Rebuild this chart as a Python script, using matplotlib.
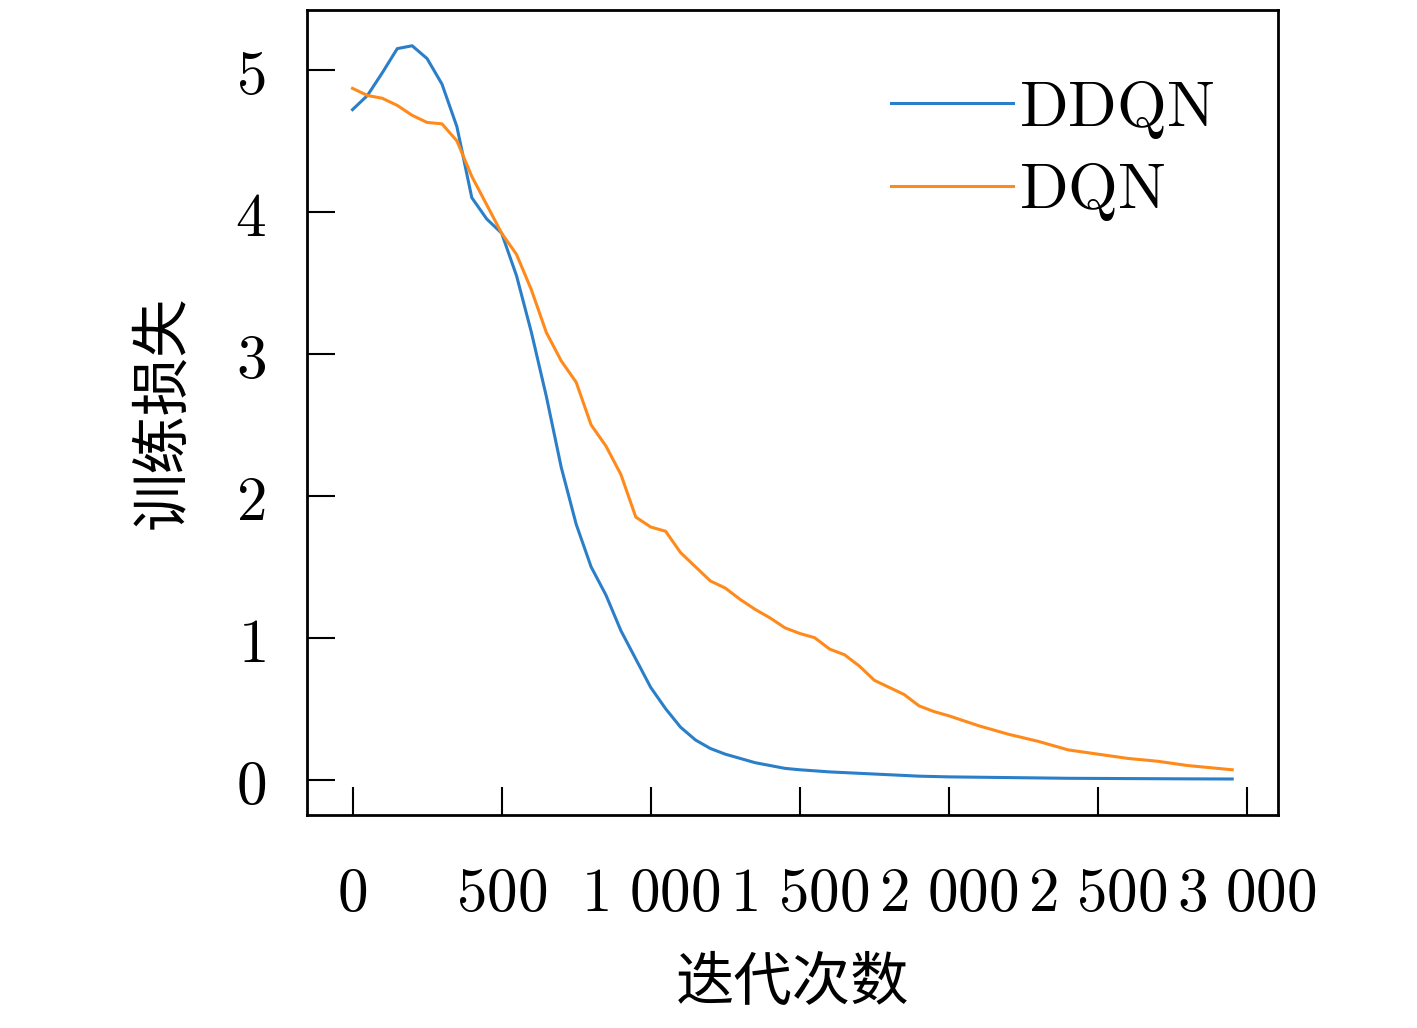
import matplotlib
matplotlib.use('Agg')
import matplotlib.pyplot as plt
from matplotlib.ticker import FuncFormatter

plt.rcParams['mathtext.fontset'] = 'cm'
plt.rcParams['font.family'] = ['Noto Sans CJK SC', 'DejaVu Sans']

# iterations and loss values
ddqn_x = [0, 50, 100, 150, 200, 250, 300, 350, 400, 450, 500, 550, 600, 650, 700,
          750, 800, 850, 900, 950, 1000, 1050, 1100, 1150, 1200, 1250, 1300, 1350,
          1400, 1450, 1500, 1600, 1700, 1800, 1900, 2000, 2200, 2400, 2600, 2800, 2950]
ddqn_y = [4.72, 4.82, 4.98, 5.15, 5.17, 5.08, 4.9, 4.6, 4.1, 3.95, 3.85, 3.55, 3.15,
          2.7, 2.2, 1.8, 1.5, 1.3, 1.05, 0.85, 0.65, 0.5, 0.37, 0.28, 0.22, 0.18,
          0.15, 0.12, 0.1, 0.08, 0.07, 0.055, 0.045, 0.035, 0.025, 0.02, 0.015,
          0.01, 0.008, 0.006, 0.005]

dqn_x = [0, 50, 100, 150, 200, 250, 300, 350, 400, 450, 500, 550, 600, 650, 700,
         750, 800, 850, 900, 950, 1000, 1050, 1100, 1150, 1200, 1250, 1300, 1350,
         1400, 1450, 1500, 1550, 1600, 1650, 1700, 1750, 1800, 1850, 1900, 1950,
         2000, 2100, 2200, 2300, 2400, 2500, 2600, 2700, 2800, 2950]
dqn_y = [4.87, 4.82, 4.8, 4.75, 4.68, 4.63, 4.62, 4.5, 4.25, 4.05, 3.85, 3.7, 3.45,
         3.15, 2.95, 2.8, 2.5, 2.35, 2.15, 1.85, 1.78, 1.75, 1.6, 1.5, 1.4, 1.35,
         1.27, 1.2, 1.14, 1.07, 1.03, 1.0, 0.92, 0.88, 0.8, 0.7, 0.65, 0.6, 0.52,
         0.48, 0.45, 0.38, 0.32, 0.27, 0.21, 0.18, 0.15, 0.13, 0.1, 0.07]

fig = plt.figure(figsize=(14.17, 10.28), dpi=100)
ax = fig.add_axes([0.217, 0.207, 0.685, 0.783])

ax.plot(ddqn_x, ddqn_y, color='#2a7fc8', lw=2.2, label=r'$\mathrm{DDQN}$')
ax.plot(dqn_x, dqn_y, color='#ff8a1c', lw=2.2, label=r'$\mathrm{DQN}$')

ax.set_xlim(-151, 3104)
ax.set_ylim(-0.25, 5.42)
ax.set_xticks([0, 500, 1000, 1500, 2000, 2500, 3000])
ax.set_yticks([0, 1, 2, 3, 4, 5])

def fmt(v, pos):
    v = int(round(v))
    if v >= 1000:
        return r'$%d\ %03d$' % (v // 1000, v % 1000)
    return r'$%d$' % v

ax.xaxis.set_major_formatter(FuncFormatter(fmt))
ax.yaxis.set_major_formatter(FuncFormatter(fmt))
ax.tick_params(direction='in', length=20, width=1.5, labelsize=44, pad=30)
ax.tick_params(axis='x', pad=34)
for s in ax.spines.values():
    s.set_linewidth(2)

ax.set_xlabel('迭代次数', fontsize=42, labelpad=20)
ax.set_ylabel('训练损失', fontsize=42, labelpad=30)

ax.legend(loc='upper right', frameon=False, fontsize=46, handlelength=1.9,
          handletextpad=0.1, labelspacing=0.25, borderaxespad=0.6)

fig.savefig('out.png', dpi=100)
